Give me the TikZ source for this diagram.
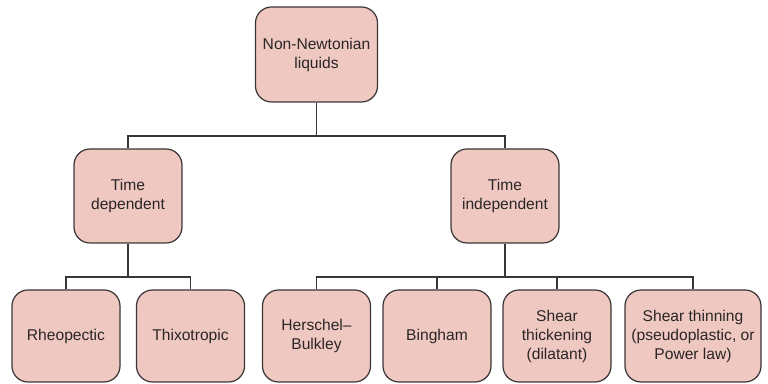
\documentclass[tikz,border=0pt]{standalone}
\usepackage{fontspec}
\setmainfont{Liberation Sans}
\usetikzlibrary{positioning}
\definecolor{boxfill}{HTML}{EFC9C1}
\definecolor{boxline}{HTML}{3A3536}
\definecolor{inktext}{HTML}{2A2526}

\begin{document}
\begin{tikzpicture}[x=0.5pt,y=-0.5pt,
  classbox/.style={draw=boxline,line width=0.6pt,rounded corners=8pt,fill=boxfill,align=center,text=inktext,
    font=\fontsize{7.8}{9.5}\selectfont,inner sep=0pt,minimum width=54pt},
  midbox/.style={classbox,minimum height=47pt},
  leafbox/.style={classbox,minimum height=46pt},
  link/.style={draw=boxline,line width=0.55pt}]
  \useasboundingbox (0,0) rectangle (768,384);
  % top level
  \node[classbox,minimum width=61pt,minimum height=47.5pt] (root) at (316.5,54.5) {Non-Newtonian\\liquids};
  % second level
  \node[midbox] (tdep) at (128,196) {Time\\dependent};
  \node[midbox] (tindep) at (505,196) {Time\\independent};
  % leaves
  \node[leafbox] (rheo) at (66,336) {Rheopectic};
  \node[leafbox] (thixo) at (190.5,336) {Thixotropic};
  \node[leafbox] (hb) at (316.5,336) {Herschel–\\Bulkley};
  \node[leafbox] (bing) at (437,336) {Bingham};
  \node[leafbox] (thick) at (557,336) {Shear\\thickening\\(dilatant)};
  \node[leafbox,minimum width=68pt] (thin) at (693,336) {Shear thinning\\(pseudoplastic, or\\Power law)};
  % bus lines
  \coordinate (topbus) at (316.5,136);
  \coordinate (depbus) at (128,277);
  \coordinate (indbus) at (505,277);
  \draw[link] (root) -- (topbus);
  \draw[link] (tdep.north) |- (topbus) -| (tindep.north);
  \draw[link] (tdep) -- (depbus);
  \draw[link] (rheo.north) |- (depbus) -| (thixo.north);
  \draw[link] (tindep) -- (indbus);
  \draw[link] (hb.north) |- (indbus) -| (thin.north);
  \draw[link] (bing.north) -- (bing.north |- indbus);
  \draw[link] (thick.north) -- (thick.north |- indbus);
\end{tikzpicture}
\end{document}
